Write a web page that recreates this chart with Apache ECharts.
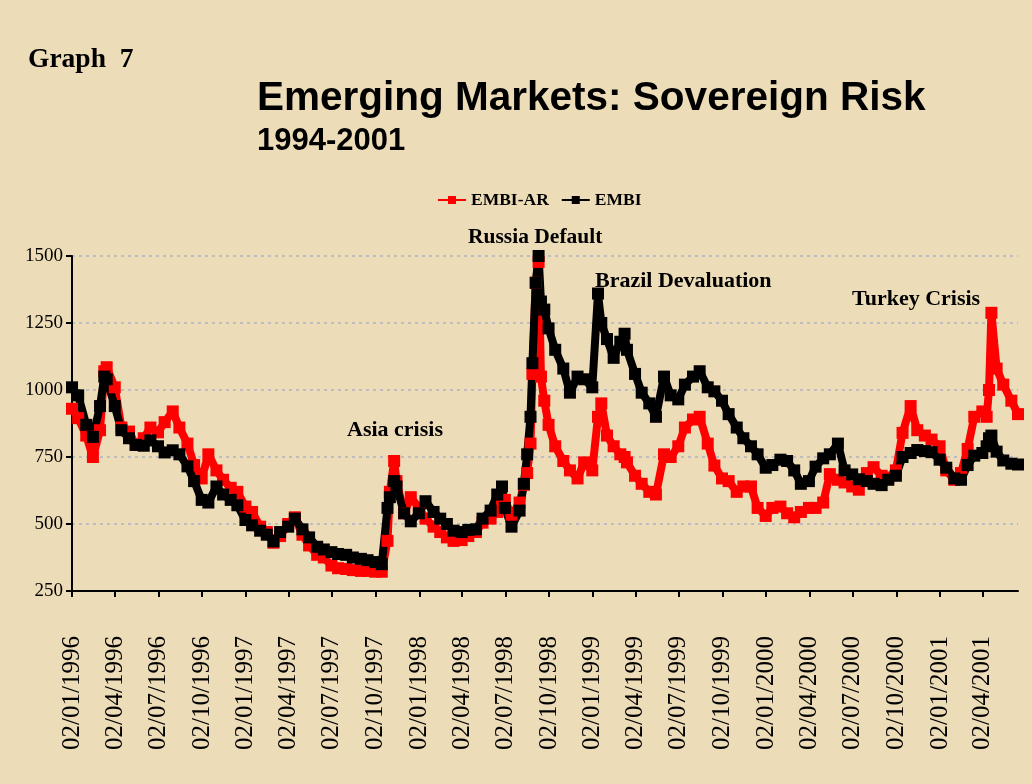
<!DOCTYPE html>
<html>
<head>
<meta charset="utf-8">
<title>Emerging Markets: Sovereign Risk</title>
<script src="https://cdn.jsdelivr.net/npm/echarts@6/dist/echarts.min.js"></script>
<style>
  html, body { margin: 0; padding: 0; background: #eddcb8; }
  #myChart { width: 1032px; height: 784px; }
</style>
</head>
<body>
<div id="myChart"></div>
<script>
// quarterly tick dates on the x axis (labels shown as dd/mm/yyyy)
var tickDates = [
  "1996-01-02", "1996-04-02", "1996-07-02", "1996-10-02",
  "1997-01-02", "1997-04-02", "1997-07-02", "1997-10-02",
  "1998-01-02", "1998-04-02", "1998-07-02", "1998-10-02",
  "1999-01-02", "1999-04-02", "1999-07-02", "1999-10-02",
  "2000-01-02", "2000-04-02", "2000-07-02", "2000-10-02",
  "2001-01-02", "2001-04-02"
];

// sample dates
var dates = [
  "1996-01-02", "1996-01-15", "1996-02-01", "1996-02-15", "1996-03-01", "1996-03-10", "1996-03-15",
  "1996-04-01", "1996-04-15", "1996-05-01", "1996-05-15", "1996-06-01", "1996-06-15", "1996-07-01",
  "1996-07-15", "1996-08-01", "1996-08-15", "1996-09-01", "1996-09-15", "1996-10-01", "1996-10-15",
  "1996-11-01", "1996-11-15", "1996-12-01", "1996-12-15",
  "1997-01-01", "1997-01-15", "1997-02-01", "1997-02-15", "1997-03-01", "1997-03-15", "1997-04-01",
  "1997-04-15", "1997-05-01", "1997-05-15", "1997-06-01", "1997-06-15", "1997-07-01", "1997-07-15",
  "1997-08-01", "1997-08-15", "1997-09-01", "1997-09-15", "1997-10-01", "1997-10-15", "1997-10-27",
  "1997-11-01", "1997-11-10", "1997-11-15", "1997-12-01", "1997-12-15",
  "1998-01-01", "1998-01-15", "1998-02-01", "1998-02-15", "1998-03-01", "1998-03-15", "1998-04-01",
  "1998-04-15", "1998-05-01", "1998-05-15", "1998-06-01", "1998-06-15", "1998-06-25", "1998-07-01",
  "1998-07-15", "1998-08-01", "1998-08-10", "1998-08-17", "1998-08-24", "1998-08-28", "1998-09-04",
  "1998-09-10", "1998-09-15", "1998-09-22", "1998-10-01", "1998-10-15", "1998-11-01", "1998-11-15",
  "1998-12-01", "1998-12-15",
  "1999-01-01", "1999-01-13", "1999-01-20", "1999-02-01", "1999-02-15", "1999-03-01", "1999-03-10",
  "1999-03-15", "1999-04-01", "1999-04-15", "1999-05-01", "1999-05-15", "1999-06-01", "1999-06-15",
  "1999-07-01", "1999-07-15", "1999-08-01", "1999-08-15", "1999-09-01", "1999-09-15", "1999-10-01",
  "1999-10-15", "1999-11-01", "1999-11-15", "1999-12-01", "1999-12-15",
  "2000-01-01", "2000-01-15", "2000-02-01", "2000-02-15", "2000-03-01", "2000-03-15", "2000-04-01",
  "2000-04-15", "2000-05-01", "2000-05-15", "2000-06-01", "2000-06-15", "2000-07-01", "2000-07-15",
  "2000-08-01", "2000-08-15", "2000-09-01", "2000-09-15", "2000-10-01", "2000-10-15", "2000-11-01",
  "2000-11-15", "2000-12-01", "2000-12-15",
  "2001-01-01", "2001-01-15", "2001-02-01", "2001-02-15", "2001-03-01", "2001-03-15", "2001-04-01",
  "2001-04-10", "2001-04-15", "2001-04-20", "2001-05-01", "2001-05-15", "2001-06-01", "2001-06-15"
];

// EMBI-AR (red)
var embiAr = [
  930, 895, 830, 750, 850, 1070, 1085, 1010, 860, 845, 795, 820, 860, 842,
  880, 920, 860, 800, 720, 670, 760, 700, 665, 635, 620,
  565, 545, 490, 470, 430, 455, 500, 525, 460, 420, 385, 375, 345, 335,
  332, 328, 325, 325, 322, 322, 437, 620, 735, 660, 540, 600,
  560, 520, 490, 470, 450, 437, 440, 455, 470, 505, 520, 545, 570, 590,
  530, 580, 646, 690, 800, 1060, 1400, 1478, 1050, 960, 870, 790, 735, 700,
  670, 730,
  700, 900, 950, 830, 790, 760, 750, 730, 680, 650, 620, 610, 760, 750,
  790, 860, 890, 900, 800, 718, 670, 660, 620, 640, 640, 560,
  530, 560, 565, 540, 525, 545, 560, 560, 580, 686, 665, 655, 640, 628,
  690, 712, 680, 673, 700, 840, 940, 850, 830, 815,
  790, 700, 665, 690, 780, 900, 920, 900, 1000, 1288, 1080, 1020, 960, 910
];

// EMBI (black)
var embi = [
  1010, 980, 870, 825, 940, 1050, 1040, 940, 850, 820, 795, 792, 812, 790,
  767, 775, 760, 715, 660, 590, 580, 640, 610, 590, 570,
  515, 495, 475, 460, 435, 470, 490, 520, 480, 450, 415, 405, 395, 388,
  385, 375, 370, 365, 358, 350, 560, 600, 660, 640, 540, 510,
  540, 585, 545, 520, 500, 475, 470, 478, 480, 520, 550, 610, 640, 560,
  490, 550, 650, 760, 900, 1100, 1400, 1500, 1330, 1300, 1230, 1150, 1080, 990,
  1050, 1040,
  1010, 1360, 1250, 1190, 1120, 1180, 1210, 1150, 1060, 990, 950, 900, 1050, 980,
  965, 1020, 1050, 1070, 1010, 995, 960, 910, 860, 820, 790, 760,
  710, 720, 740, 735, 700, 650, 660, 714, 745, 760, 800, 700, 685, 667,
  660, 650, 645, 665, 680, 750, 765, 776, 772, 768,
  740, 710, 670, 665, 720, 755, 765, 790, 820, 830, 770, 737, 725, 722
];

var yMin = 250;
var yMax = 1500;
var yStep = 250;

function toTime(s) {
  var p = s.split("-");
  return new Date(+p[0], +p[1] - 1, +p[2]).getTime();
}

function pad(n) {
  return n < 10 ? "0" + n : "" + n;
}

var tickTimes = tickDates.map(toTime);
var serif = "'Liberation Serif', 'DejaVu Serif', serif";
var sans = "'Liberation Sans', Arial, sans-serif";

var chart = echarts.init(document.getElementById("myChart"), null, { renderer: "canvas" });

var options = {
  backgroundColor: "#eddcb8",
  animation: false,
  title: [
    {
      text: "Graph  7",
      left: 28,
      top: 46,
      padding: 0,
      textStyle: { fontFamily: serif, fontWeight: "bold", fontSize: 27.5, color: "#000" },
    },
    {
      text: "Emerging Markets: Sovereign Risk",
      subtext: "1994-2001",
      left: 257,
      top: 78,
      padding: 0,
      itemGap: 7,
      textStyle: { fontFamily: sans, fontWeight: "bold", fontSize: 40.5, color: "#000" },
      subtextStyle: { fontFamily: sans, fontWeight: "bold", fontSize: 31, color: "#000" },
    },
  ],
  legend: {
    top: 186,
    left: 432,
    itemWidth: 28,
    itemHeight: 10,
    itemGap: 12,
    data: ["EMBI-AR", "EMBI"],
    textStyle: { fontFamily: serif, fontWeight: "bold", fontSize: 17.5, color: "#000" },
  },
  grid: {
    left: 72,
    right: 14,
    top: 256,
    bottom: 193,
  },
  // x is a plain value axis in milliseconds, so ticks can sit on the quarter dates
  xAxis: {
    type: "value",
    min: toTime("1996-01-02"),
    max: toTime("2001-06-15"),
    splitLine: { show: false },
    axisLine: { lineStyle: { color: "#000", width: 2 } },
    axisTick: {
      customValues: tickTimes,
      length: 6,
      lineStyle: { color: "#000", width: 2 },
    },
    axisLabel: {
      customValues: tickTimes,
      rotate: 90,
      margin: 45,
      fontFamily: serif,
      fontSize: 25,
      color: "#000",
      formatter: function (value) {
        var d = new Date(value);
        return pad(d.getDate()) + "/" + pad(d.getMonth() + 1) + "/" + d.getFullYear();
      },
    },
  },
  yAxis: {
    type: "value",
    min: yMin,
    max: yMax,
    interval: yStep,
    axisLine: { show: true, lineStyle: { color: "#000", width: 2 } },
    axisTick: { show: true, length: 6, lineStyle: { color: "#000", width: 2 } },
    axisLabel: {
      fontFamily: serif,
      fontSize: 19,
      color: "#000",
      margin: 9,
      formatter: function (value) {
        return String(value);
      },
    },
    splitLine: {
      show: true,
      lineStyle: { color: "#bdbcc0", width: 2, type: [3, 4] },
    },
  },
  graphic: [
    { type: "text", left: 468, top: 226, style: { text: "Russia Default", font: "bold 21.5px " + serif, fill: "#000" } },
    { type: "text", left: 595, top: 270, style: { text: "Brazil Devaluation", font: "bold 22px " + serif, fill: "#000" } },
    { type: "text", left: 347, top: 419, style: { text: "Asia crisis", font: "bold 22px " + serif, fill: "#000" } },
    { type: "text", left: 852, top: 288, style: { text: "Turkey Crisis", font: "bold 22px " + serif, fill: "#000" } },
  ],
  series: [
    {
      name: "EMBI-AR",
      type: "line",
      symbol: "rect",
      symbolSize: 12,
      showAllSymbol: true,
      itemStyle: { color: "#ff0000" },
      lineStyle: { color: "#ff0000", width: 8 },
      data: dates.map(function (d, i) { return [toTime(d), embiAr[i]]; }),
    },
    {
      name: "EMBI",
      type: "line",
      symbol: "rect",
      symbolSize: 12,
      showAllSymbol: true,
      itemStyle: { color: "#000000" },
      lineStyle: { color: "#000000", width: 8 },
      data: dates.map(function (d, i) { return [toTime(d), embi[i]]; }),
    },
  ],
};

chart.setOption(options);
</script>
</body>
</html>
